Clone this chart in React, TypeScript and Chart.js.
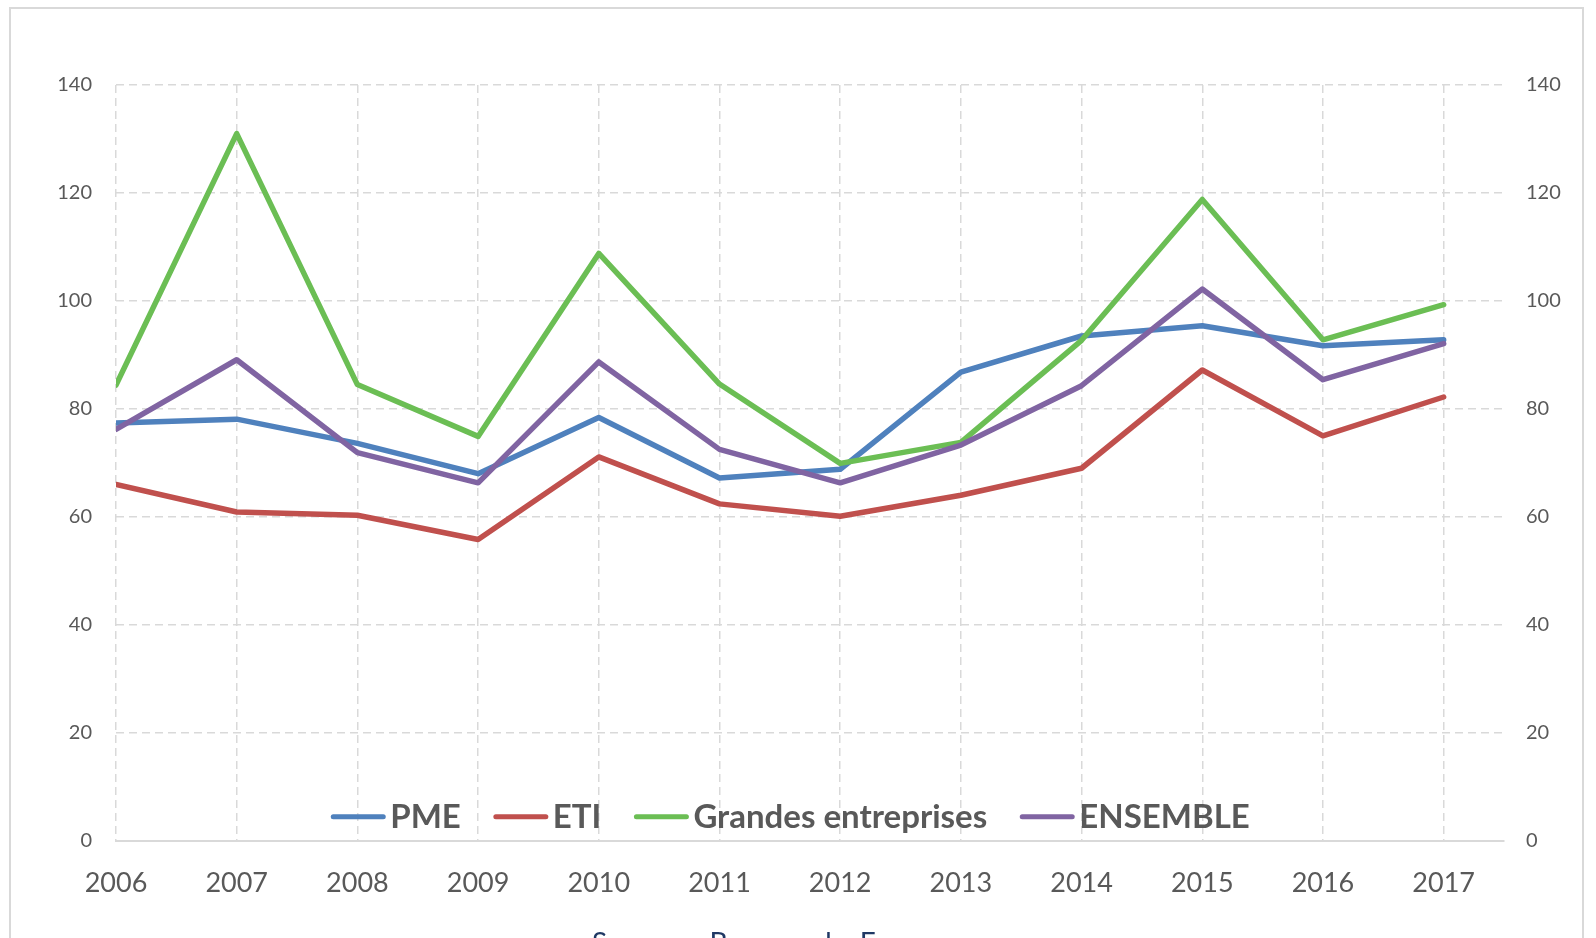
import React, { useEffect, useRef } from "react";
import { Chart, registerables } from "chart.js";

Chart.register(...registerables);

const years = [2006, 2007, 2008, 2009, 2010, 2011, 2012, 2013, 2014, 2015, 2016, 2017];
const pme = [77.4, 78.1, 73.6, 68.0, 78.4, 67.2, 68.8, 86.8, 93.5, 95.4, 91.7, 92.8];
const eti = [66.0, 60.9, 60.3, 55.8, 71.1, 62.4, 60.1, 64.0, 69.0, 87.2, 75.0, 82.2];
const grandes = [84.4, 131.0, 84.5, 74.9, 108.8, 84.6, 69.9, 73.8, 92.7, 118.8, 92.8, 99.3];
const ensemble = [76.2, 89.1, 71.9, 66.3, 88.7, 72.5, 66.3, 73.3, 84.3, 102.2, 85.4, 92.1];
const seriesLabels = ["PME", "ETI", "Grandes entreprises", "ENSEMBLE"];
const seriesColors = ["#4F81BD", "#C0504D", "#6BBE54", "#8064A2"];
const yTicks = [0, 20, 40, 60, 80, 100, 120, 140];

const GRID = "#d9d9d9";
const TEXT = "#595959";
const FONT = "Lato, 'Open Sans', sans-serif";

const legendPlugin = {
  id: "overlayLegend",
  afterDraw(chart: any) {
    const ctx = chart.ctx as CanvasRenderingContext2D;
    const area = chart.chartArea;
    ctx.save();
    ctx.font = `bold 33px ${FONT}`;
    const markW = 54;
    const markGap = 5;
    const itemGap = 33;
    const widths = seriesLabels.map((l) => ctx.measureText(l).width);
    const total = widths.reduce((a, w) => a + markW + markGap + w, 0) + itemGap * (seriesLabels.length - 1);
    let x = (area.left + area.right) / 2 - 19.5 - total / 2;
    const yLine = area.bottom - 24;
    const yBase = area.bottom - 12.5;
    seriesLabels.forEach((label, i) => {
      ctx.strokeStyle = seriesColors[i];
      ctx.lineWidth = 5;
      ctx.lineCap = "round";
      ctx.beginPath();
      ctx.moveTo(x + 2, yLine);
      ctx.lineTo(x + markW - 2, yLine);
      ctx.stroke();
      ctx.fillStyle = TEXT;
      ctx.textBaseline = "alphabetic";
      ctx.textAlign = "left";
      ctx.fillText(label, x + markW + markGap, yBase);
      x += markW + markGap + widths[i] + itemGap;
    });
    ctx.restore();
  },
};

export default function App() {
  const canvasRef = useRef<HTMLCanvasElement | null>(null);

  useEffect(() => {
    const canvas = canvasRef.current;
    if (!canvas) return;
    const seriesData = [pme, eti, grandes, ensemble];
    const chart = new Chart(canvas, {
      type: "line",
      data: {
        datasets: seriesData.map((vals, i) => ({
          label: seriesLabels[i],
          data: years.map((yr, j) => ({ x: yr, y: vals[j] })),
          borderColor: seriesColors[i],
          backgroundColor: seriesColors[i],
          borderWidth: 5.5,
          pointRadius: 0,
          tension: 0,
          borderJoinStyle: "round",
          borderCapStyle: "round",
          order: 4 - i,
          yAxisID: "y",
        })),
      },
      options: {
        animation: false,
        responsive: false,
        devicePixelRatio: 1,
        layout: { padding: { top: 85, left: 0, right: 0, bottom: 0 } },
        plugins: {
          legend: { display: false },
          tooltip: { enabled: false },
        },
        scales: {
          x: {
            type: "linear",
            min: 2006,
            max: 2017.5,
            afterBuildTicks: (scale: any) => {
              scale.ticks = years.map((v) => ({ value: v }));
            },
            afterFit: (scale: any) => {
              scale.height = 97.3;
            },
            ticks: {
              callback: (v: any) => String(v),
              font: { family: FONT, size: 27 },
              color: TEXT,
              padding: 26,
              maxRotation: 0,
              autoSkip: false,
            },
            grid: { color: GRID, lineWidth: 1.5, drawTicks: false },
            border: { display: true, color: GRID, width: 2, dash: [8, 5] },
          },
          y: {
            position: "left",
            min: 0,
            max: 140,
            afterBuildTicks: (scale: any) => {
              scale.ticks = yTicks.map((v) => ({ value: v }));
            },
            afterFit: (scale: any) => {
              scale.width = 116;
            },
            ticks: {
              font: { family: FONT, size: 20 },
              color: TEXT,
              padding: 24,
            },
            grid: {
              color: (c: any) => (c.tick && c.tick.value === 0 ? "rgba(0,0,0,0)" : GRID),
              lineWidth: 1.5,
              drawTicks: false,
            },
            border: { display: false, dash: [8, 5] },
          },
          y2: {
            position: "right",
            min: 0,
            max: 140,
            afterBuildTicks: (scale: any) => {
              scale.ticks = yTicks.map((v) => ({ value: v }));
            },
            afterFit: (scale: any) => {
              scale.width = 92;
            },
            ticks: {
              font: { family: FONT, size: 20 },
              color: TEXT,
              padding: 22,
            },
            grid: { display: false, drawTicks: false },
            border: { display: false },
          },
        },
      },
      plugins: [legendPlugin],
    } as any);
    return () => chart.destroy();
  }, []);

  return (
    <div
      style={{
        position: "fixed",
        left: 0,
        top: 0,
        width: 1596,
        height: 938,
        overflow: "hidden",
        background: "#ffffff",
      }}
    >
      <div
        style={{
          position: "absolute",
          left: 9,
          top: 7,
          width: 1575,
          height: 1000,
          border: "2px solid #d9d9d9",
          boxSizing: "border-box",
        }}
      />
      <canvas
        ref={canvasRef}
        width={1596}
        height={938}
        style={{ position: "absolute", left: 0, top: 0, width: 1596, height: 938 }}
      />
      <div
        style={{
          position: "absolute",
          left: 592,
          top: 928,
          fontFamily: FONT,
          fontSize: 28,
          lineHeight: "28px",
          wordSpacing: 6,
          color: "#1F3864",
          whiteSpace: "nowrap",
        }}
      >
        Source : Banque de France
      </div>
    </div>
  );
}
